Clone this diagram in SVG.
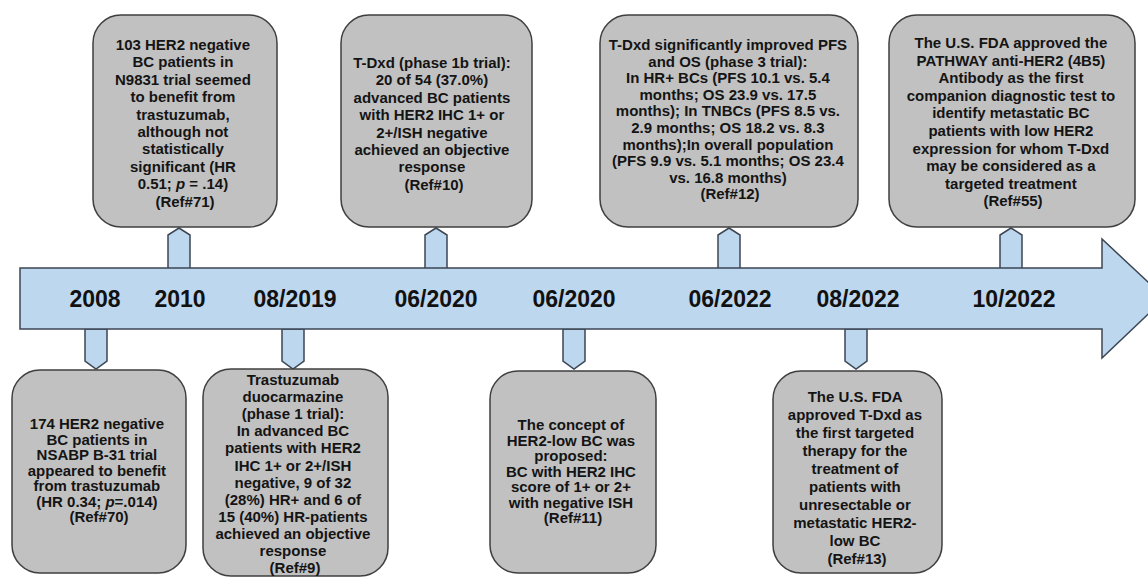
<svg xmlns="http://www.w3.org/2000/svg" width="1148" height="577" viewBox="0 0 1148 577">
<style>
.box{fill:#c1c1c1;stroke:#3f3f3f;stroke-width:1.5}
.tab{fill:#bdd7ee;stroke:#3c4654;stroke-width:1.5;stroke-linejoin:miter}
.arrow{fill:#bdd7ee;stroke:#3c4654;stroke-width:1.5}
.t{font-family:"Liberation Sans",Arial,sans-serif;font-weight:bold;font-size:15px;fill:#141414;text-anchor:middle}
.yr{font-family:"Liberation Sans",Arial,sans-serif;font-weight:bold;font-size:23px;fill:#111;text-anchor:middle}
</style>
<rect width="1148" height="577" fill="#ffffff"/>
<g id="connectors">
<polygon class="tab" points="168,269 168,235 179,228 190,235 190,269"/>
<polygon class="tab" points="425,269 425,235 436,228 447,235 447,269"/>
<polygon class="tab" points="718,269 718,235 729,228 740,235 740,269"/>
<polygon class="tab" points="1000,269 1000,235 1011,228 1022,235 1022,269"/>
<polygon class="tab" points="85,329 85,361 96,369 107,361 107,329"/>
<polygon class="tab" points="282,329 282,361 293,369 304,361 304,329"/>
<polygon class="tab" points="563,329 563,361 574,369 585,361 585,329"/>
<polygon class="tab" points="845,329 845,361 856,369 867,361 867,329"/>
</g>
<g id="timeline">
<polygon class="arrow" points="20,268 1102,268 1102,239 1165,298 1102,358 1102,329 20,329"/>
<text class="yr" x="95" y="307">2008</text>
<text class="yr" x="180" y="307">2010</text>
<text class="yr" x="295" y="307">08/2019</text>
<text class="yr" x="436" y="307">06/2020</text>
<text class="yr" x="574" y="307">06/2020</text>
<text class="yr" x="730" y="307">06/2022</text>
<text class="yr" x="858" y="307">08/2022</text>
<text class="yr" x="1014" y="307">10/2022</text>
</g>
<g id="n2010">
<rect class="box" x="93" y="15" width="184" height="212" rx="28"/>
<text class="t" x="185" y="50">
<tspan x="185" dy="0">103 HER2 negative</tspan>
<tspan x="185" dy="17.4">BC patients in</tspan>
<tspan x="185" dy="17.4">N9831 trial seemed</tspan>
<tspan x="185" dy="17.4">to benefit from</tspan>
<tspan x="185" dy="17.4">trastuzumab,</tspan>
<tspan x="185" dy="17.4">although not</tspan>
<tspan x="185" dy="17.4">statistically</tspan>
<tspan x="185" dy="17.4">significant (HR</tspan>
<tspan x="185" dy="17.4">0.51; <tspan font-style="italic">p</tspan> = .14)</tspan>
<tspan x="185" dy="17.4">(Ref#71)</tspan>
</text>
</g>
<g id="n062020a">
<rect class="box" x="341" y="15" width="191" height="212" rx="28"/>
<text class="t" x="434" y="68">
<tspan x="434" dy="0">T-Dxd (phase 1b trial):</tspan>
<tspan x="434" dy="17.4">20 of 54 (37.0%)</tspan>
<tspan x="434" dy="17.4">advanced BC patients</tspan>
<tspan x="434" dy="17.4">with HER2 IHC 1+ or</tspan>
<tspan x="434" dy="17.4">2+/ISH negative</tspan>
<tspan x="434" dy="17.4">achieved an objective</tspan>
<tspan x="434" dy="17.4">response</tspan>
<tspan x="434" dy="17.4">(Ref#10)</tspan>
</text>
</g>
<g id="n062022">
<rect class="box" x="600" y="15" width="258" height="212" rx="28"/>
<text class="t" x="730" y="50">
<tspan x="730" dy="0">T-Dxd significantly improved PFS</tspan>
<tspan x="730" dy="16.6">and OS (phase 3 trial):</tspan>
<tspan x="730" dy="16.6">In HR+ BCs (PFS 10.1 vs. 5.4</tspan>
<tspan x="730" dy="16.6">months; OS 23.9 vs. 17.5</tspan>
<tspan x="730" dy="16.6">months); In TNBCs (PFS 8.5 vs.</tspan>
<tspan x="730" dy="16.6">2.9 months; OS 18.2 vs. 8.3</tspan>
<tspan x="730" dy="16.6">months);In overall population</tspan>
<tspan x="730" dy="16.6">(PFS 9.9 vs. 5.1 months; OS 23.4</tspan>
<tspan x="730" dy="16.6">vs. 16.8 months)</tspan>
<tspan x="730" dy="16.6">(Ref#12)</tspan>
</text>
</g>
<g id="n102022">
<rect class="box" x="889" y="15" width="246" height="212" rx="28"/>
<text class="t" x="1013" y="48">
<tspan x="1013" dy="0">The U.S. FDA approved the</tspan>
<tspan x="1013" dy="17.6">PATHWAY anti-HER2 (4B5)</tspan>
<tspan x="1013" dy="17.6">Antibody as the first</tspan>
<tspan x="1013" dy="17.6">companion diagnostic test to</tspan>
<tspan x="1013" dy="17.6">identify metastatic BC</tspan>
<tspan x="1013" dy="17.6">patients with low HER2</tspan>
<tspan x="1013" dy="17.6">expression for whom T-Dxd</tspan>
<tspan x="1013" dy="17.6">may be considered as a</tspan>
<tspan x="1013" dy="17.6">targeted treatment</tspan>
<tspan x="1013" dy="17.6">(Ref#55)</tspan>
</text>
</g>
<g id="n2008">
<rect class="box" x="12" y="370" width="174" height="203" rx="28"/>
<text class="t" x="99" y="429">
<tspan x="99" dy="0">174 HER2 negative</tspan>
<tspan x="99" dy="15.5">BC patients in</tspan>
<tspan x="99" dy="15.5">NSABP B-31 trial</tspan>
<tspan x="99" dy="15.5">appeared to benefit</tspan>
<tspan x="99" dy="15.5">from trastuzumab</tspan>
<tspan x="99" dy="15.5">(HR 0.34; <tspan font-style="italic">p</tspan>=.014)</tspan>
<tspan x="99" dy="15.5">(Ref#70)</tspan>
</text>
</g>
<g id="n082019">
<rect class="box" x="203" y="369" width="185" height="207" rx="28"/>
<text class="t" x="295" y="385">
<tspan x="295" dy="0">Trastuzumab</tspan>
<tspan x="295" dy="17.1">duocarmazine</tspan>
<tspan x="295" dy="17.1">(phase 1 trial):</tspan>
<tspan x="295" dy="17.1">In advanced BC</tspan>
<tspan x="295" dy="17.1">patients with HER2</tspan>
<tspan x="295" dy="17.1">IHC 1+ or 2+/ISH</tspan>
<tspan x="295" dy="17.1">negative, 9 of 32</tspan>
<tspan x="295" dy="17.1">(28%) HR+ and 6 of</tspan>
<tspan x="295" dy="17.1">15 (40%) HR-patients</tspan>
<tspan x="295" dy="17.1">achieved an objective</tspan>
<tspan x="295" dy="17.1">response</tspan>
<tspan x="295" dy="17.1">(Ref#9)</tspan>
</text>
</g>
<g id="n062020b">
<rect class="box" x="490" y="371" width="166" height="202" rx="28"/>
<text class="t" x="573" y="430">
<tspan x="573" dy="0">The concept of</tspan>
<tspan x="573" dy="15.5">HER2-low BC was</tspan>
<tspan x="573" dy="15.5">proposed:</tspan>
<tspan x="573" dy="15.5">BC with HER2 IHC</tspan>
<tspan x="573" dy="15.5">score of 1+ or 2+</tspan>
<tspan x="573" dy="15.5">with negative ISH</tspan>
<tspan x="573" dy="15.5">(Ref#11)</tspan>
</text>
</g>
<g id="n082022">
<rect class="box" x="773" y="371" width="169" height="202" rx="28"/>
<text class="t" x="857" y="402">
<tspan x="857" dy="0">The U.S. FDA</tspan>
<tspan x="857" dy="18">approved T-Dxd as</tspan>
<tspan x="857" dy="18">the first targeted</tspan>
<tspan x="857" dy="18">therapy for the</tspan>
<tspan x="857" dy="18">treatment of</tspan>
<tspan x="857" dy="18">patients with</tspan>
<tspan x="857" dy="18">unresectable or</tspan>
<tspan x="857" dy="18">metastatic HER2-</tspan>
<tspan x="857" dy="18">low BC</tspan>
<tspan x="857" dy="18">(Ref#13)</tspan>
</text>
</g>
</svg>
